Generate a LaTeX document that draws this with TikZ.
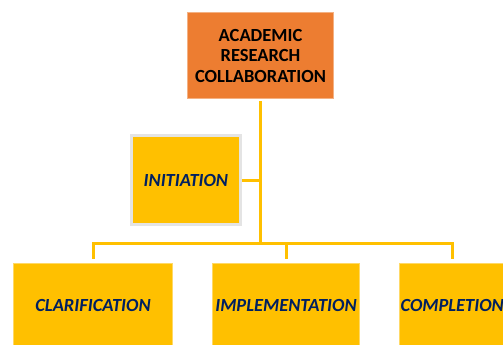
\documentclass[tikz,border=0pt]{standalone}
\usepackage{fontspec}
\setmainfont{Carlito}
\definecolor{orng}{HTML}{ED7D31}
\definecolor{yel}{HTML}{FFC000}
\definecolor{navy}{HTML}{002060}
\definecolor{lgray}{HTML}{E4E4E4}
\begin{document}
\begin{tikzpicture}[x=1bp,y=-1bp,
  topbox/.style={fill=orng, draw=orng!60!white, line width=0.6bp, minimum width=145.6bp, minimum height=86bp, inner sep=0pt,
    align=center, font=\fontsize{18.5bp}{20.7bp}\selectfont\bfseries, text=black},
  stagebox/.style={fill=yel, draw=yel!60!white, line width=0.6bp, minimum height=83.4bp, inner sep=0pt,
    font=\fontsize{18.5bp}{20bp}\selectfont\bfseries\itshape, text=navy},
  conn/.style={draw=yel, line width=3bp}]
\clip (0,0) rectangle (503,344);
\fill[white] (0,0) rectangle (503,344);
\node[topbox] (top) at (260.5,55.7) {ACADEMIC\\RESEARCH\\COLLABORATION};
\node[stagebox, draw=lgray, line width=3bp, minimum width=109.5bp, minimum height=89bp] (init) at (185.9,180) {INITIATION};
\node[stagebox, minimum width=159.4bp] (b1) at (93,305) {CLARIFICATION};
\node[stagebox, minimum width=146.6bp] (b2) at (286,305) {IMPLEMENTATION};
\node[stagebox, minimum width=105.4bp] (b3) at (452.2,305) {COMPLETION};
\coordinate (j) at (260.3,243.3);
\coordinate (k) at (260.3,180);
\draw[conn, shorten <=2bp] (top.south -| j) -- (j);
\draw[conn] (init.east) -- (k);
\draw[conn, shorten >=4bp] (j) -| (b1.north);
\draw[conn, shorten >=4bp] (j) -| (b2.north);
\draw[conn, shorten >=4bp] (j) -| (b3.north);
\end{tikzpicture}
\end{document}
